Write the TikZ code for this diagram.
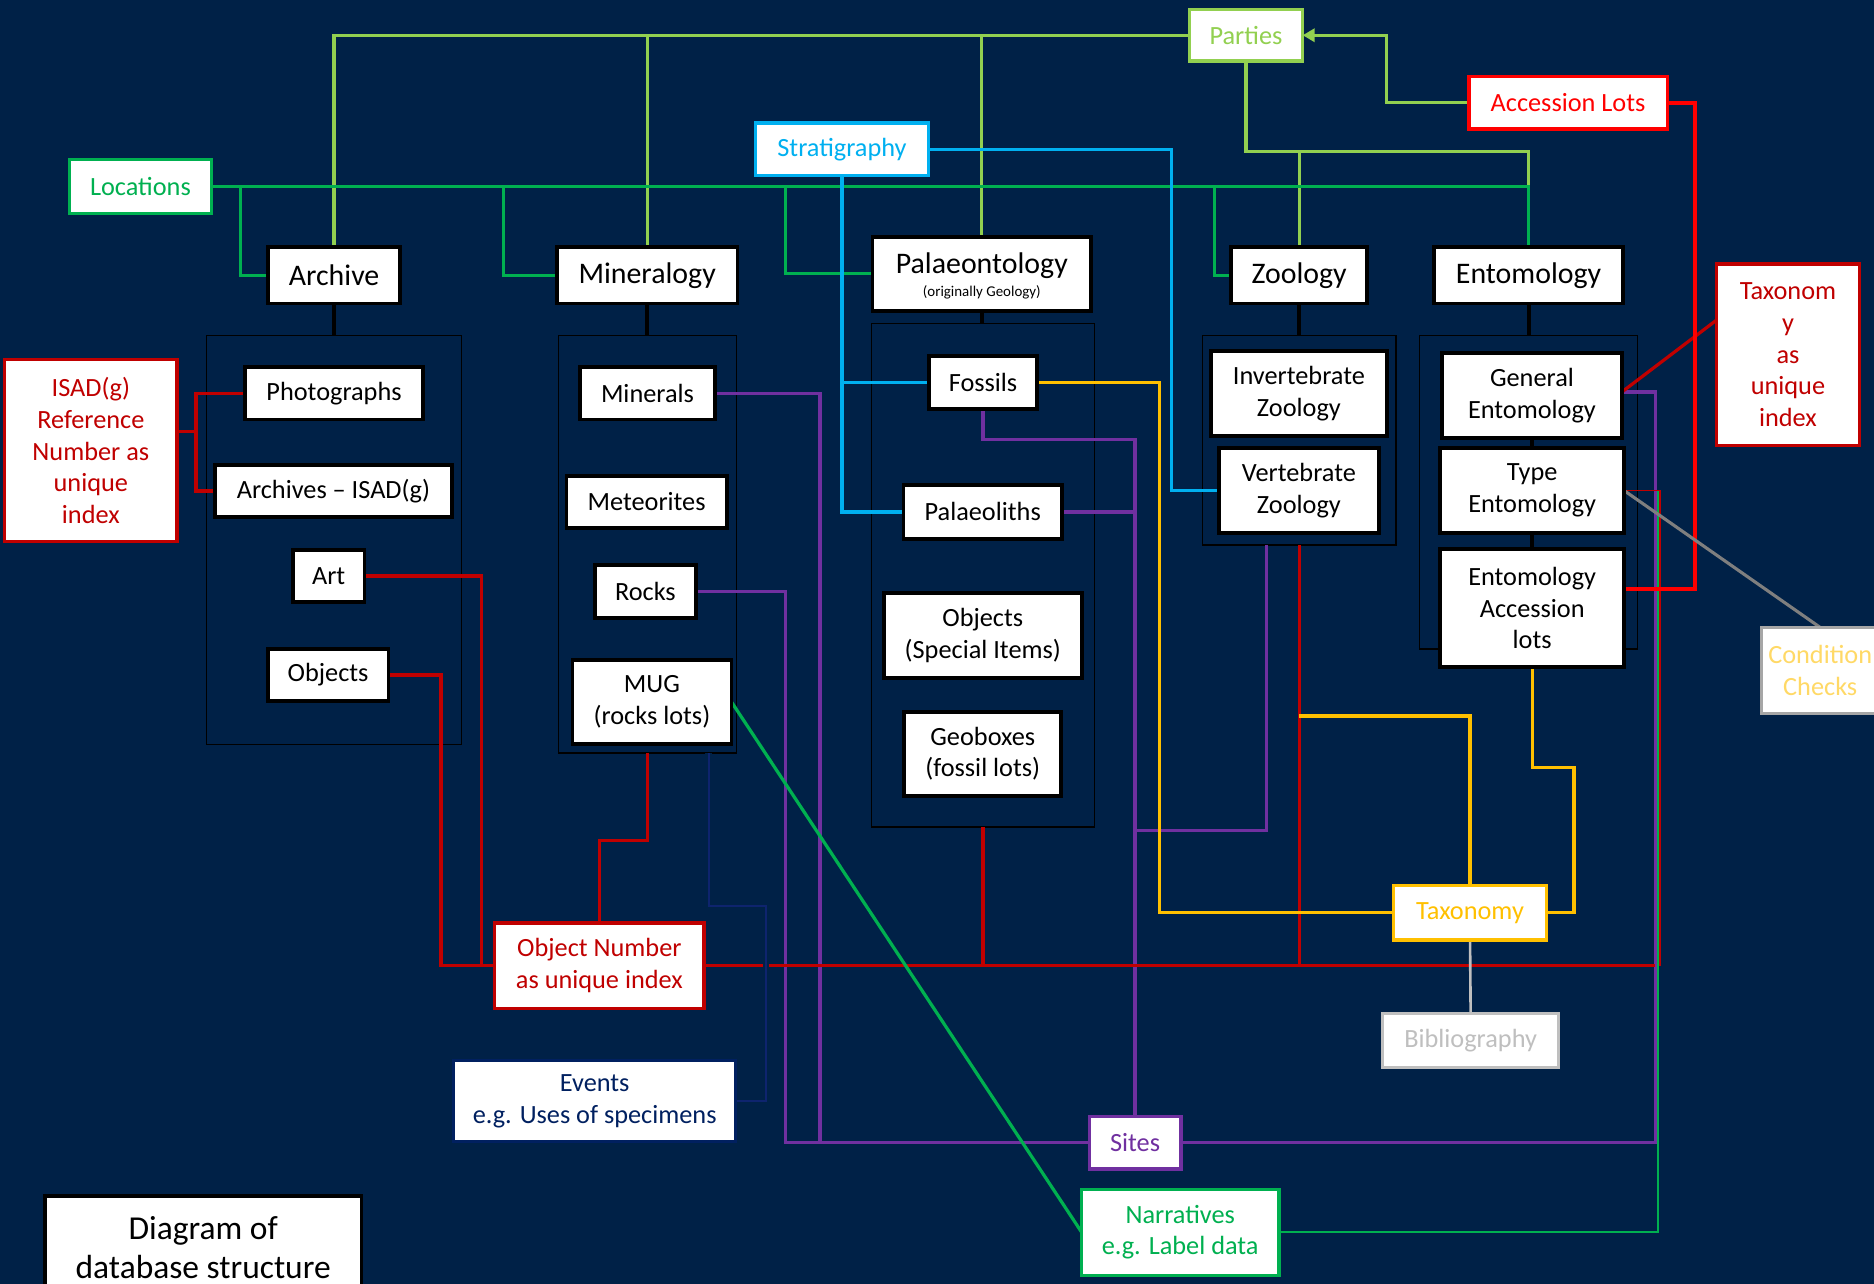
\documentclass[tikz,border=0pt]{standalone}
\usepackage{fontspec}
\setmainfont{Carlito}
\usetikzlibrary{arrows.meta}
\pgfdeclarelayer{back}
\pgfdeclarelayer{lines}
\pgfsetlayers{back,lines,main}
\definecolor{bg}{RGB}{0,33,71}
\definecolor{lgr}{RGB}{146,208,80}
\definecolor{dgr}{RGB}{0,176,80}
\definecolor{cya}{RGB}{0,176,240}
\definecolor{drd}{RGB}{192,0,0}
\definecolor{brd}{RGB}{255,0,0}
\definecolor{ylw}{RGB}{255,192,0}
\definecolor{pur}{RGB}{112,48,160}
\definecolor{lgy}{RGB}{191,191,191}
\definecolor{mgy}{RGB}{127,127,127}
\definecolor{bgy}{RGB}{166,166,166}
\definecolor{cck}{RGB}{255,217,102}
\definecolor{nvy}{RGB}{0,32,96}
\definecolor{nvl}{RGB}{14,36,110}
\begin{document}
\begin{tikzpicture}[x=1pt,y=-1pt,
 every node/.style={inner sep=0pt, outer sep=0pt},
 base/.style={draw, fill=white, align=center, font=\fontsize{22}{26.5}\selectfont},
 bbox/.style={base, draw=black, line width=3.2pt, text=black},
 hbox/.style={bbox, font=\fontsize{25}{30}\selectfont},
 cbox/.style 2 args={base, draw=#1, text=#2, line width=2.8pt},
 cont/.style={draw=black, line width=1pt},
 con/.style={line width=2.7pt},
 lgc/.style={con, draw=lgr},
 dgc/.style={con, draw=dgr},
 cyc/.style={con, draw=cya},
 rdc/.style={con, draw=drd},
 brc/.style={line width=3pt, draw=brd},
 ylc/.style={con, draw=ylw},
 puc/.style={con, draw=pur},
 blc/.style={line width=3.2pt, draw=black},
 thinr/.style={line width=1.3pt, draw=drd},
 thing/.style={line width=1.3pt, draw=dgr},
 nvc/.style={line width=1.6pt, draw=nvl},
 gyc/.style={line width=2.6pt, draw=mgy},
 lgyc/.style={line width=2.2pt, draw=lgy}
]
\useasboundingbox (0,0) rectangle (1568,1074);
\clip (0,0) rectangle (1568,1074);
\begin{pgfonlayer}{back}
\fill[bg] (0,0) rectangle (1568,1074);
\node[cont, minimum width=213, minimum height=342] (cArch) at (279.5,452) {};
\node[cont, minimum width=149, minimum height=349] (cMin) at (541.5,455.5) {};
\node[cont, minimum width=187, minimum height=421] (cPal) at (822.5,481.5) {};
\node[cont, minimum width=162, minimum height=175] (cZoo) at (1087,368.5) {};
\node[cont, minimum width=182, minimum height=262] (cEnt) at (1279,412) {};
\end{pgfonlayer}

% headers
\node[hbox, minimum width=111, minimum height=47] (Archive) at (279.5,230.5) {Archive};
\node[hbox, minimum width=151, minimum height=47] (Mineralogy) at (541.5,230.5) {Mineralogy};
\node[hbox, minimum width=183, minimum height=62] (Palaeo) at (821.5,229) {};
\node[font=\fontsize{25}{30}\selectfont] (PalaeoT) at (821.5,222) {Palaeontology};
\node[font=\fontsize{12.5}{14}\selectfont] (PalaeoS) at (821.5,245) {(originally Geology)};
\node[hbox, minimum width=114, minimum height=47] (Zoology) at (1087,230.5) {Zoology};
\node[hbox, minimum width=158, minimum height=47] (Entomology) at (1279,230.5) {Entomology};

% children
\node[bbox, minimum width=149, minimum height=44] (Photographs) at (279.5,329) {Photographs};
\node[bbox, minimum width=198, minimum height=43.5] (ArchISAD) at (279,410.75) {Archives – ISAD(g)};
\node[bbox, minimum width=60, minimum height=44] (Art) at (275,482) {Art};
\node[bbox, minimum width=101, minimum height=43.5] (ArchObj) at (274.5,564.75) {Objects};
\node[bbox, minimum width=112.5, minimum height=44] (Minerals) at (541.75,329) {Minerals};
\node[bbox, minimum width=134, minimum height=44] (Meteorites) at (541,420) {Meteorites};
\node[bbox, minimum width=84, minimum height=44] (Rocks) at (540,495) {Rocks};
\node[bbox, minimum width=133, minimum height=70.5] (MUG) at (545.5,587.25) {MUG\\(rocks lots)};
\node[bbox, minimum width=91, minimum height=44.4] (Fossils) at (822.5,319.8) {Fossils};
\node[bbox, minimum width=132.5, minimum height=44.7] (Palaeoliths) at (822.25,428.35) {Palaeoliths};
\node[bbox, minimum width=165.4, minimum height=71.5] (PalObj) at (822.3,531.75) {Objects\\(Special Items)};
\node[bbox, minimum width=131.4, minimum height=70.5] (Geoboxes) at (822.3,630.75) {Geoboxes\\(fossil lots)};
\node[bbox, minimum width=147.6, minimum height=71] (InvZoo) at (1086.8,329.5) {Invertebrate\\Zoology};
\node[bbox, minimum width=133.6, minimum height=71] (VertZoo) at (1086.8,410.5) {Vertebrate\\Zoology};
\node[bbox, minimum width=150.4, minimum height=71] (GenEnt) at (1281.8,331.1) {General\\Entomology};
\node[bbox, minimum width=154, minimum height=71] (TypeEnt) at (1282,410.5) {Type\\Entomology};
\node[bbox, minimum width=154, minimum height=98.4] (EntAcc) at (1282,508.8) {Entomology\\Accession\\lots};

% coloured boxes
\node[cbox={lgr}{lgr}, minimum width=95, minimum height=43] (Parties) at (1042.5,29.5) {Parties};
\node[cbox={brd}{brd}, minimum width=166, minimum height=44] (AccLots) at (1312,86) {Accession Lots};
\node[cbox={cya}{cya}, minimum width=145, minimum height=44] (Strat) at (704.5,125) {Stratigraphy};
\node[cbox={dgr}{dgr}, minimum width=119, minimum height=45] (Locations) at (117.5,156) {Locations};
\node[cbox={drd}{drd}, minimum width=144, minimum height=152] (ISAD) at (76,377) {ISAD(g)\\Reference\\Number as\\unique\\index};
\node[cbox={drd}{drd}, minimum width=120, minimum height=152] (TaxIdx) at (1496,297) {Taxonom\\y\\as\\unique\\index};
\node[cbox={bgy}{cck}, minimum width=98, minimum height=72] (CondChk) at (1523,561) {Condition\\Checks};
\node[cbox={drd}{drd}, minimum width=175, minimum height=71.5] (ObjNum) at (501.5,808) {Object Number\\as unique index};
\node[cbox={nvy}{nvy}, minimum width=236, minimum height=67.5] (Events) at (497.6,921.25) {Events\\e.g. Uses of specimens};
\node[cbox={ylw}{ylw}, minimum width=128, minimum height=45.5] (Taxonomy) at (1230,763.75) {Taxonomy};
\node[cbox={lgy}{lgy}, minimum width=147, minimum height=45] (Biblio) at (1230.5,870.5) {Bibliography};
\node[cbox={pur}{pur}, minimum width=76.5, minimum height=44] (Sites) at (949.75,956) {Sites};
\node[cbox={dgr}{dgr}, minimum width=165, minimum height=72] (Narr) at (987.5,1031) {Narratives\\e.g. Label data};
\node[bbox, minimum width=265, minimum height=87, font=\fontsize{28}{33}\selectfont] (Title) at (170,1044) {Diagram of\\database structure};

\begin{pgfonlayer}{lines}
% light green
\coordinate (pj) at (1042.5,127);
\draw[lgc] (Parties.west) -| (Archive.north);
\draw[lgc] (Mineralogy.north) |- (Parties.west);
\draw[lgc] (Palaeo.north) |- (Parties.west);
\draw[lgc] (Parties.south) -- (pj) -| (Entomology.north);
\draw[lgc] (Zoology.north) |- (pj);
\coordinate (aj) at (1160,86);
\draw[lgc, -{Triangle[length=10pt,width=11pt]}] (AccLots.west) -- (aj) |- (Parties.east);
% dark green
\coordinate (g1) at (201,156);
\coordinate (g2) at (421,156);
\coordinate (g3) at (657,156);
\coordinate (g4) at (1016,156);
\draw[dgc] (Locations.east) -| (Entomology.north);
\draw[dgc] (g1) |- (Archive.west);
\draw[dgc] (g2) |- (Mineralogy.west);
\draw[dgc] (g3) |- (Palaeo.west);
\draw[dgc] (g4) |- (Zoology.west);
% cyan
\coordinate (c1) at (980,410.5);
\draw[cyc] (Strat.east) -| (c1) -- (VertZoo.west);
\draw[cyc] (Strat.south) |- (Palaeoliths.west);
\coordinate (c2) at (704.5,319.8);
\draw[cyc] (c2) -- (Fossils.west);
% black
\draw[blc] (Archive.south) -- (cArch.north);
\draw[blc] (Mineralogy.south) -- (cMin.north);
\draw[blc] (Palaeo.south) -- (Palaeo.south |- cPal.north);
\draw[blc] (Zoology.south) -- (cZoo.north);
\draw[blc] (Entomology.south) -- (cEnt.north);
\draw[blc] (GenEnt.south) -- (GenEnt.south |- TypeEnt.north);
\draw[blc] (TypeEnt.south) -- (TypeEnt.south |- EntAcc.north);
% purple
\coordinate (p1) at (686,956);
\coordinate (p2) at (657,956);
\coordinate (p3) at (1385,328);
\draw[puc] (Minerals.east) -| (p1);
\draw[puc] (Rocks.east) -| (p2) -- (Sites.west);
\draw[puc] (Fossils.south) -- ++(0,26) -| (Sites.north);
\draw[puc] (Palaeoliths.east) -- (Palaeoliths.east -| Sites.north);
\draw[puc] ([xshift=-27]cZoo.south) -- ++(0,239) -| (Sites.north);
\draw[puc] (Sites.east) -| (p3) -- (GenEnt.east |- p3);
% thin lines on the right
\coordinate (t1) at (1388.8,808);
\coordinate (t2) at (1387.3,410.5);
\draw[thing] (Narr.east) -| (t2) -- (TypeEnt.east);
\draw[thinr] (TypeEnt.east) -| (t1);
% dark red
\coordinate (r1) at (164,361);
\draw[rdc] (ISAD.east |- r1) -- (r1);
\draw[rdc] (Photographs.west) -| (r1) |- (ArchISAD.west);
\coordinate (r2) at (403,808);
\coordinate (r3) at (369,808);
\draw[rdc] (Art.east) -| (r2) -- (ObjNum.west);
\draw[rdc] (ArchObj.east) -| (r3) -- (ObjNum.west);
\coordinate (r4) at (501.5,703);
\draw[rdc] (cMin.south) |- (r4) -- (ObjNum.north);
\coordinate (r5) at (1385,808);
\draw[rdc] (ObjNum.east) -- (r5);
\draw[rdc] (cPal.south) -- (cPal.south |- r5);
\draw[rdc] (cZoo.south) -- (cZoo.south |- r5);
\coordinate (r6) at (1436,268);
\draw[rdc] (GenEnt.east |- p3) -- (TaxIdx.west |- r6);
% bright red
\coordinate (b1) at (1418,493);
\draw[brc] (AccLots.east) -| (b1) -- (EntAcc.east |- b1);
% yellow
\coordinate (y1) at (970,763.75);
\draw[ylc] (Fossils.east) -| (y1) -- (Taxonomy.west);
\coordinate (y2) at (1087,599);
\draw[ylc] (y2) -| (Taxonomy.north);
\coordinate (y3) at (1317,642);
\draw[ylc] (EntAcc.south) |- (y3) |- (Taxonomy.east);
% greys
\draw[lgyc] (Taxonomy.south) -- (Biblio.north);
\draw[gyc] (TypeEnt.east) -- (CondChk.north);
% navy
\coordinate (n1) at (641,758);
\draw[nvc, preaction={draw=bg, line width=5.5pt}] ([xshift=51.5]cMin.south) |- (n1) |- (Events.east);
% green diagonal
\draw[dgc] (MUG.east) -- (Narr.west);
\end{pgfonlayer}
\end{tikzpicture}
\end{document}
